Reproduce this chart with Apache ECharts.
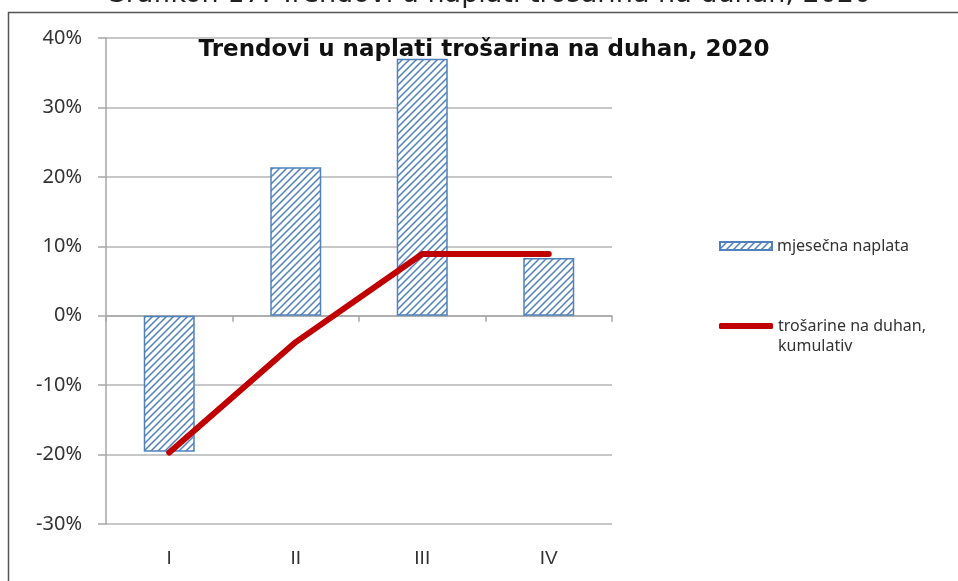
<!DOCTYPE html>
<html>
<head>
<meta charset="utf-8">
<script src="https://cdn.jsdelivr.net/npm/echarts@6/dist/echarts.min.js"></script>
<style>
html,body{margin:0;padding:0;background:#fff;}
#chart{width:958px;height:581px;}
</style>
</head>
<body>
<div id="chart"></div>
<script>
var categories = ['I', 'II', 'III', 'IV'];
var monthlyValues = [-19.6, 21.4, 37.0, 8.3];
var cumulativeValues = [-19.7, -3.8, 8.9, 8.9];
var yTicks = {min: -30, max: 40, interval: 10};
var barName = 'mjesečna naplata';
var lineName = 'trošarine na duhan,\nkumulativ';
var innerTitle = 'Trendovi u naplati trošarina na duhan, 2020';
var outerTitle = 'Grafikon 17: Trendovi u naplati trošarina na duhan, 2020';

function hatch() {
  var s = 7;
  var c = document.createElement('canvas');
  c.width = s; c.height = s;
  var g = c.getContext('2d');
  g.fillStyle = '#ffffff';
  g.fillRect(0, 0, s, s);
  g.strokeStyle = '#4F81BD';
  g.lineWidth = 1.5;
  g.beginPath();
  g.moveTo(-s, 2 * s); g.lineTo(2 * s, -s);
  g.moveTo(-s, s); g.lineTo(s, -s);
  g.moveTo(0, 2 * s); g.lineTo(2 * s, 0);
  g.stroke();
  return c;
}

var chart = echarts.init(document.getElementById('chart'), null, {renderer: 'canvas'});
var gridColor = '#b4b4b4';
var labelColor = '#333333';

chart.setOption({
  animation: false,
  backgroundColor: '#ffffff',
  grid: {left: 106, right: 346, top: 38, bottom: 57, containLabel: false},
  legend: [
    {
      data: [{name: barName, icon: 'rect'}],
      left: 719, top: 238, orient: 'vertical',
      itemWidth: 52, itemHeight: 8, itemGap: 0, padding: 0,
      selectedMode: false,
      textStyle: {fontFamily: 'Noto Sans', fontSize: 16, color: labelColor}
    },
    {
      data: [{name: lineName, icon: 'roundRect'}],
      left: 719, top: 296, orient: 'vertical',
      itemWidth: 54, itemHeight: 6, itemGap: 0, padding: 0,
      selectedMode: false,
      formatter: function (name) { return '\n' + name; },
      textStyle: {fontFamily: 'Noto Sans', fontSize: 16, color: labelColor, lineHeight: 20}
    }
  ],
  xAxis: [
    {
      type: 'category', data: categories, boundaryGap: true,
      axisLine: {show: true, onZero: true, lineStyle: {color: '#a6a6a6', width: 1.5}},
      axisTick: {show: true, length: 6, lineStyle: {color: '#a6a6a6', width: 1.5}},
      axisLabel: {show: false},
      splitLine: {show: false}
    },
    {
      type: 'category', data: categories, boundaryGap: true, position: 'bottom',
      axisLine: {show: false, onZero: false},
      axisTick: {show: false},
      axisLabel: {show: true, margin: 25, fontFamily: 'Liberation Sans', fontSize: 19, color: labelColor},
      splitLine: {show: false}
    }
  ],
  yAxis: {
    type: 'value', min: yTicks.min, max: yTicks.max, interval: yTicks.interval,
    axisLine: {show: true, lineStyle: {color: '#a6a6a6', width: 1.5}},
    axisTick: {show: true, length: 8, lineStyle: {color: '#a6a6a6', width: 1.5}},
    axisLabel: {formatter: '{value}%', margin: 24, fontFamily: 'Noto Sans', fontSize: 20, color: labelColor},
    splitLine: {show: true, lineStyle: {color: gridColor, width: 1.5}}
  },
  series: [
    {
      name: barName, type: 'bar', xAxisIndex: 0, data: monthlyValues,
      barWidth: 51,
      itemStyle: {color: {image: hatch(), repeat: 'repeat'}, borderColor: '#4F81BD', borderWidth: 1.5},
      z: 2
    },
    {
      name: lineName, type: 'line', xAxisIndex: 0, data: cumulativeValues,
      symbol: 'none', color: '#C00000',
      lineStyle: {color: '#C00000', width: 6, cap: 'round', join: 'round'},
      z: 3
    }
  ],
  graphic: [
    {
      type: 'rect', left: 6, top: 10, silent: true,
      shape: {x: 0, y: 0, width: 1000, height: 1000},
      style: {fill: 'none', stroke: '#555555', lineWidth: 1.5}
    },
    {
      type: 'text', x: 488, y: -5, silent: true,
      style: {text: outerTitle, font: '27px "DejaVu Sans"', fill: '#222222',
        align: 'center', verticalAlign: 'middle', textAlign: 'center', textVerticalAlign: 'middle'}
    },
    {
      type: 'text', x: 484, y: 50, silent: true, z: 10,
      style: {text: innerTitle, font: 'bold 23px "DejaVu Sans"', fill: '#111111',
        align: 'center', verticalAlign: 'middle', textAlign: 'center', textVerticalAlign: 'middle'}
    }
  ]
});
</script>
</body>
</html>
